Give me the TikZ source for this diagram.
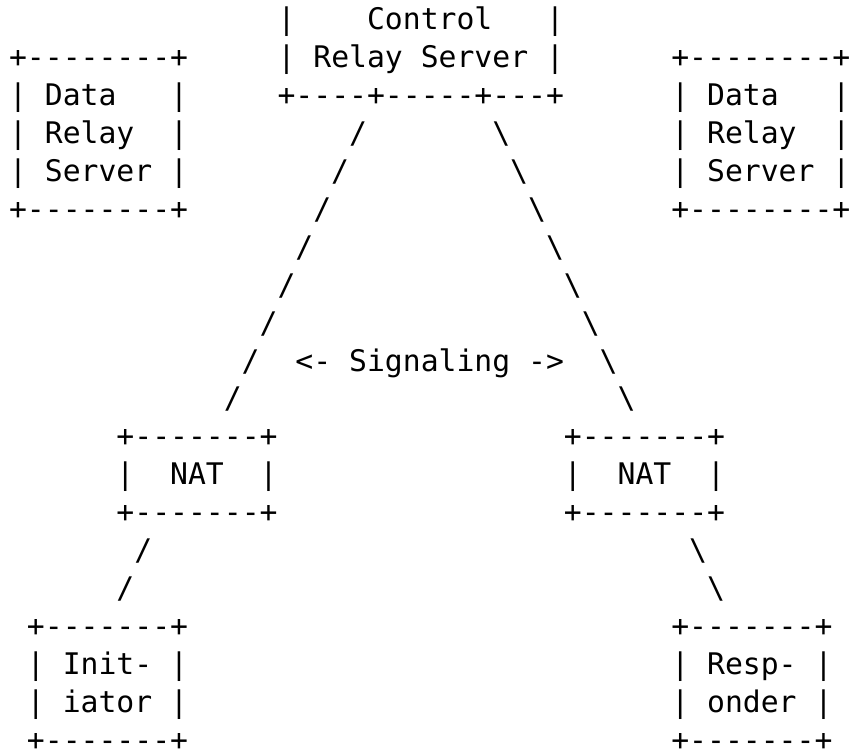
\documentclass[tikz,border=0pt]{standalone}
\usepackage{fontspec}
\setmonofont{DejaVu Sans Mono}

\begin{document}
\begin{tikzpicture}
 [
  x=8.95pt, y=-18.95pt,
  txt/.style = {anchor=base west, inner sep=0pt, outer sep=0pt,
                xshift=-4.475pt, yshift=-5pt,
                font=\ttfamily\fontsize{14.87pt}{18.95pt}\selectfont},
 ]
 \useasboundingbox (-1.006,-0.5277) rectangle (46.65,19.2889);

 % control relay server
 \node (ctrlA) at (15,0) [txt] {|\ \ \ \ Control\ \ \ |};
 \node (ctrlB) at (15,1) [txt] {|\ Relay Server\ |};
 \node (ctrlC) at (15,2) [txt] {+----+-----+---+};

 % data relay servers
 \node (dataLA) at (0,1) [txt] {+--------+};
 \node (dataLB) at (0,2) [txt] {|\ Data\ \ \ |};
 \node (dataLC) at (0,3) [txt] {|\ Relay\ \ |};
 \node (dataLD) at (0,4) [txt] {|\ Server\ |};
 \node (dataLE) at (0,5) [txt] {+--------+};

 \node (dataRA) at (37,1) [txt] {+--------+};
 \node (dataRB) at (37,2) [txt] {|\ Data\ \ \ |};
 \node (dataRC) at (37,3) [txt] {|\ Relay\ \ |};
 \node (dataRD) at (37,4) [txt] {|\ Server\ |};
 \node (dataRE) at (37,5) [txt] {+--------+};

 % signaling legs
 \node (legL1) at (19,3) [txt] {/};
 \node (legL2) at (18,4) [txt] {/};
 \node (legL3) at (17,5) [txt] {/};
 \node (legL4) at (16,6) [txt] {/};
 \node (legL5) at (15,7) [txt] {/};
 \node (legL6) at (14,8) [txt] {/};
 \node (legL7) at (13,9) [txt] {/};
 \node (legL8) at (12,10) [txt] {/};

 \node (legR1) at (27,3) [txt] {\textbackslash};
 \node (legR2) at (28,4) [txt] {\textbackslash};
 \node (legR3) at (29,5) [txt] {\textbackslash};
 \node (legR4) at (30,6) [txt] {\textbackslash};
 \node (legR5) at (31,7) [txt] {\textbackslash};
 \node (legR6) at (32,8) [txt] {\textbackslash};
 \node (legR7) at (33,9) [txt] {\textbackslash};
 \node (legR8) at (34,10) [txt] {\textbackslash};

 \node (signal) at (16,9) [txt] {<- Signaling ->};

 % the two NATs
 \node (natLA) at (6,11) [txt] {+-------+};
 \node (natLB) at (6,12) [txt] {|\ \ NAT\ \ |};
 \node (natLC) at (6,13) [txt] {+-------+};

 \node (natRA) at (31,11) [txt] {+-------+};
 \node (natRB) at (31,12) [txt] {|\ \ NAT\ \ |};
 \node (natRC) at (31,13) [txt] {+-------+};

 \node (accL1) at (7,14) [txt] {/};
 \node (accL2) at (6,15) [txt] {/};
 \node (accR1) at (38,14) [txt] {\textbackslash};
 \node (accR2) at (39,15) [txt] {\textbackslash};

 % initiator and responder
 \node (initA) at (1,16) [txt] {+-------+};
 \node (initB) at (1,17) [txt] {|\ Init-\ |};
 \node (initC) at (1,18) [txt] {|\ iator\ |};
 \node (initD) at (1,19) [txt] {+-------+};

 \node (respA) at (37,16) [txt] {+-------+};
 \node (respB) at (37,17) [txt] {|\ Resp-\ |};
 \node (respC) at (37,18) [txt] {|\ onder\ |};
 \node (respD) at (37,19) [txt] {+-------+};
\end{tikzpicture}
\end{document}
